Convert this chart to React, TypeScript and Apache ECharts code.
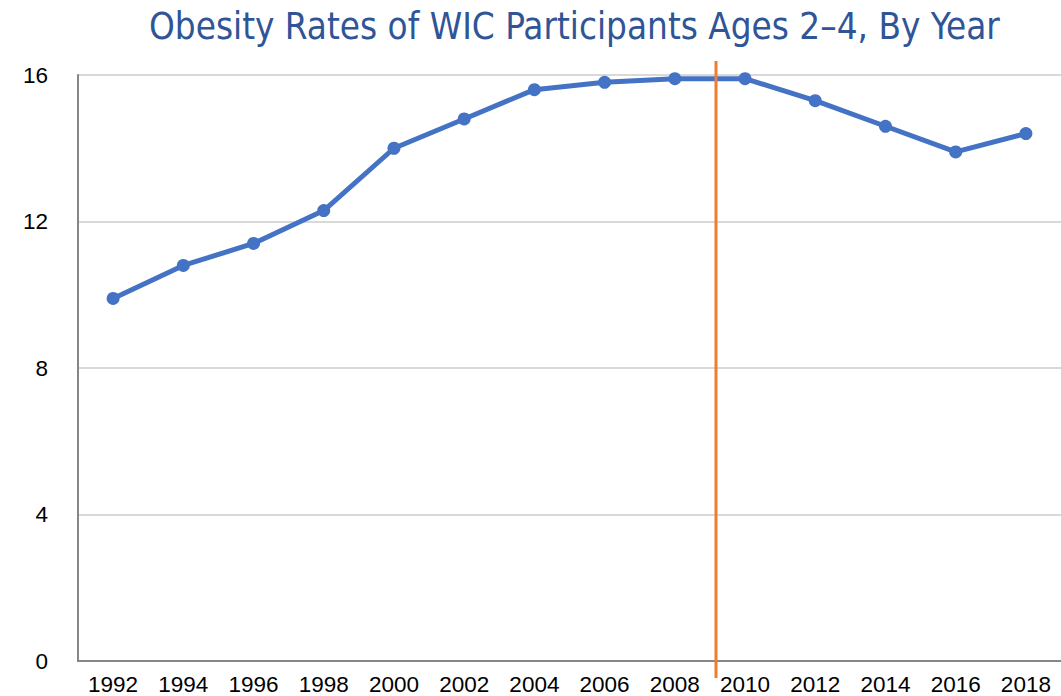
import React, { useEffect, useRef } from "react";
import * as echarts from "echarts";

const years: string[] = ["1992","1994","1996","1998","2000","2002","2004","2006","2008","2010","2012","2014","2016","2018"];
const obesityRates: number[] = [9.9, 10.8, 11.4, 12.3, 14.0, 14.8, 15.6, 15.8, 15.9, 15.9, 15.3, 14.6, 13.9, 14.4];
const yTicks: number[] = [0, 4, 8, 12, 16];
const titleText = "Obesity Rates of WIC Participants Ages 2\u20134, By Year";

export default function App() {
  const ref = useRef<HTMLDivElement>(null);
  useEffect(() => {
    if (!ref.current) return;
    const chart = echarts.init(ref.current, null, { renderer: "svg" });
    chart.setOption({
      animation: false,
      backgroundColor: "#ffffff",
      title: {
        text: titleText,
        left: 144,
        top: 3,
        textStyle: {
          fontFamily: "'DejaVu Sans Condensed', 'DejaVu Sans', sans-serif",
          fontWeight: "normal",
          fontSize: 36.5,
          color: "#2F5597",
        },
      },
      grid: { left: 78, right: -6, top: 75, bottom: 35, containLabel: false },
      xAxis: {
        type: "category",
        data: years,
        boundaryGap: true,
        axisLine: { lineStyle: { color: "#868686", width: 2 } },
        axisTick: { show: false },
        axisLabel: { color: "#000", fontSize: 22.5, fontFamily: "'Liberation Sans', Arial, sans-serif", margin: 12 },
        splitLine: { show: false },
      },
      yAxis: {
        type: "value",
        min: yTicks[0],
        max: yTicks[yTicks.length - 1],
        interval: 4,
        axisLine: { show: true, lineStyle: { color: "#868686", width: 2 } },
        axisTick: { show: false },
        axisLabel: { color: "#000", fontSize: 22.5, fontFamily: "'Liberation Sans', Arial, sans-serif", margin: 30 },
        splitLine: { lineStyle: { color: "#d9d9d9", width: 2 } },
      },
      series: [
        {
          type: "line",
          data: obesityRates,
          symbol: "circle",
          symbolSize: 13,
          lineStyle: { color: "#4472C4", width: 5 },
          itemStyle: { color: "#4472C4" },
          z: 3,
        },
      ],
      graphic: [
        {
          type: "line",
          shape: { x1: 716, y1: 61, x2: 716, y2: 678 },
          style: { stroke: "#ED7D31", lineWidth: 3 },
          z: 10,
        },
      ],
    });
    return () => chart.dispose();
  }, []);
  return <div ref={ref} style={{ position: "fixed", left: 0, top: 0, width: 1061, height: 696 }} />;
}
